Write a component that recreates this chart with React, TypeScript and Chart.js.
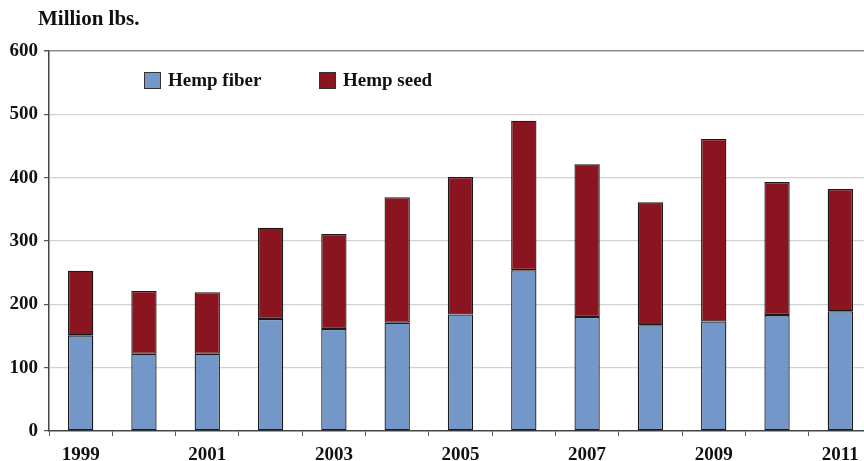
import React, { useEffect, useRef } from "react";
import { Chart, registerables } from "chart.js";

Chart.register(...registerables);

const years = ["1999", "2000", "2001", "2002", "2003", "2004", "2005", "2006", "2007", "2008", "2009", "2010", "2011"];
const xTickLabels = ["1999", "", "2001", "", "2003", "", "2005", "", "2007", "", "2009", "", "2011"];
const hempFiber = [151, 122, 122, 177, 161, 171, 184, 254, 180, 167, 173, 183, 189];
const hempSeed = [102, 99, 97, 144, 150, 198, 217, 236, 241, 194, 288, 210, 193];
const yTicks = [0, 100, 200, 300, 400, 500, 600];
const seriesNames = ["Hemp fiber", "Hemp seed"];
const unitTitle = "Million lbs.";

const FONT = '"Liberation Serif", "Times New Roman", serif';
const BLUE = "#7397C9";
const RED = "#8A1520";

const overlayPlugin = {
  id: "overlay",
  afterDraw(chart: any) {
    const ctx = chart.ctx;
    ctx.save();
    ctx.fillStyle = "#111";
    ctx.font = `bold 21px ${FONT}`;
    ctx.textBaseline = "middle";
    ctx.textAlign = "left";
    ctx.fillText(unitTitle, 38, 20);

    const items = [
      { x: 144, tx: 168 },
      { x: 319, tx: 343 },
    ];
    chart.data.datasets.forEach((ds: any, i: number) => {
      const it = items[i];
      ctx.fillStyle = ds.backgroundColor;
      ctx.fillRect(it.x, 72, 17, 17);
      ctx.strokeStyle = "#333";
      ctx.lineWidth = 1;
      ctx.strokeRect(it.x + 0.5, 72.5, 16, 16);
      ctx.fillStyle = "#111";
      ctx.font = `bold 19px ${FONT}`;
      ctx.fillText(ds.label, it.tx, 81);
    });
    ctx.restore();
  },
};

export default function App() {
  const ref = useRef<HTMLCanvasElement>(null);
  useEffect(() => {
    if (!ref.current) return;
    const chart = new Chart(ref.current, {
      type: "bar",
      data: {
        labels: years,
        datasets: [
          {
            label: seriesNames[0],
            data: hempFiber,
            backgroundColor: BLUE,
            borderColor: "#1a1a1a",
            borderWidth: 1.3,
            borderSkipped: false,
            barPercentage: 0.4,
            categoryPercentage: 1,
          },
          {
            label: seriesNames[1],
            data: hempSeed,
            backgroundColor: RED,
            borderColor: "#1a1a1a",
            borderWidth: 1.3,
            borderSkipped: false,
            barPercentage: 0.4,
            categoryPercentage: 1,
          },
        ],
      },
      options: {
        responsive: false,
        animation: false,
        devicePixelRatio: 1,
        layout: { padding: { top: 51, right: 8, left: 0, bottom: 0 } },
        plugins: {
          legend: { display: false },
          tooltip: { enabled: false },
          title: { display: false },
        },
        scales: {
          x: {
            stacked: true,
            offset: true,
            grid: {
              offset: true,
              drawOnChartArea: false,
              drawTicks: true,
              tickLength: 5,
              tickColor: "#555",
            },
            border: { display: true, color: "#444", width: 1.5 },
            ticks: {
              autoSkip: false,
              maxRotation: 0,
              padding: 8,
              color: "#111",
              font: { family: FONT, size: 19, weight: "bold" },
              callback: (_v: any, i: number) => xTickLabels[i],
            },
            afterFit: (scale: any) => {
              scale.height = 30;
            },
          },
          y: {
            stacked: true,
            min: 0,
            max: 600,
            afterBuildTicks: (scale: any) => {
              scale.ticks = yTicks.map((v) => ({ value: v }));
            },
            grid: {
              color: (c: any) =>
                c.tick && c.tick.value === 600 ? "#8c8c8c" : c.tick && c.tick.value === 0 ? "rgba(0,0,0,0)" : "#d2d2d2",
              lineWidth: (c: any) => (c.tick && c.tick.value === 600 ? 1.5 : 1.2),
              drawTicks: true,
              tickLength: 5,
              tickColor: "#555",
            },
            border: { display: true, color: "#444", width: 1.5 },
            ticks: {
              padding: 6,
              color: "#111",
              font: { family: FONT, size: 19, weight: "bold" },
            },
            afterFit: (scale: any) => {
              scale.width = 49;
            },
          },
        },
      },
      plugins: [overlayPlugin],
    } as any);
    return () => chart.destroy();
  }, []);

  return (
    <div
      style={{
        position: "absolute",
        left: 0,
        top: 0,
        width: 864,
        height: 461,
        overflow: "hidden",
        background: "#fff",
      }}
    >
      <canvas ref={ref} width={880} height={461} style={{ display: "block" }} />
    </div>
  );
}
